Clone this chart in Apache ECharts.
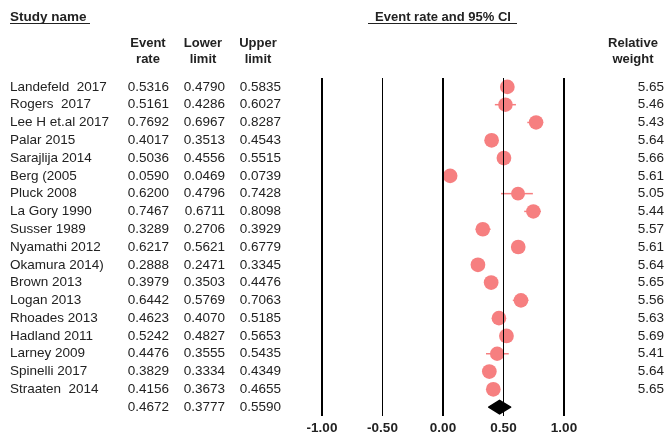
<!DOCTYPE html>
<html>
<head>
<meta charset="utf-8">
<script src="https://cdn.jsdelivr.net/npm/echarts@6/dist/echarts.min.js"></script>
<style>
html,body{margin:0;padding:0;background:#fff;}
#chart{width:667px;height:440px;}
</style>
</head>
<body>
<div id="chart"></div>
<script>
/*
* forest plot data
*/
var studies=['Landefeld  2017','Rogers  2017','Lee H et.al 2017','Palar 2015','Sarajlija 2014','Berg (2005','Pluck 2008','La Gory 1990','Susser 1989','Nyamathi 2012','Okamura 2014)','Brown 2013','Logan 2013','Rhoades 2013','Hadland 2011','Larney 2009','Spinelli 2017','Straaten  2014'];
var eventRate=[0.5316,0.5161,0.7692,0.4017,0.5036,0.0590,0.6200,0.7467,0.3289,0.6217,0.2888,0.3979,0.6442,0.4623,0.5242,0.4476,0.3829,0.4156];
var lowerLimit=[0.4790,0.4286,0.6967,0.3513,0.4556,0.0469,0.4796,0.6711,0.2706,0.5621,0.2471,0.3503,0.5769,0.4070,0.4827,0.3555,0.3334,0.3673];
var upperLimit=[0.5835,0.6027,0.8287,0.4543,0.5515,0.0739,0.7428,0.8098,0.3929,0.6779,0.3345,0.4476,0.7063,0.5185,0.5653,0.5435,0.4349,0.4655];
var relWeight=[5.65,5.46,5.43,5.64,5.66,5.61,5.05,5.44,5.57,5.61,5.64,5.65,5.56,5.63,5.69,5.41,5.64,5.65];
var summary=[0.4672,0.3777,0.5590]; // rate, lower, upper
var xTicks=[-1,-0.5,0,0.5,1];

var FONT='Liberation Sans, Arial, sans-serif';
var rowIds=[];
for(var i=0;i<=studies.length;i++){rowIds.push(String(i));}

function colText(idx,arr,sumVal){
	idx=+idx;
	if(idx<studies.length) return arr[idx];
	return sumVal===undefined?'':sumVal;
}
function fmt4(v){return v.toFixed(4);}

function colAxis(margin,align,position,fn){
	return {
		type:'category',
		data:rowIds,
		inverse:true,
		position:position,
		axisLine:{show:false},
		axisTick:{show:false},
		splitLine:{show:false},
		axisLabel:{
			interval:0,
			margin:margin,
			align:align,
			fontSize:13.5,
			fontFamily:FONT,
			color:'#222',
			formatter:fn
		}
	};
}

var ciData=[],dotData=[];
for(var i=0;i<studies.length;i++){
	ciData.push([lowerLimit[i],upperLimit[i],i]);
	dotData.push([eventRate[i],i,relWeight[i]]);
}

var option={
	backgroundColor:'#fff',
	animation:false,
	grid:{left:322,right:103,top:78,bottom:24},
	xAxis:{
		type:'value',
		min:-1,
		max:1,
		interval:0.5,
		axisLine:{show:false},
		axisTick:{show:false},
		splitLine:{show:false},
		axisLabel:{
			margin:5,
			fontSize:13.5,
			fontWeight:'bold',
			fontFamily:FONT,
			color:'#222',
			formatter:function(v){return v.toFixed(2);}
		}
	},
	yAxis:[
		colAxis(312,'left','left',function(v,i){return colText(i,studies,'');}),
		colAxis(153,'right','left',function(v,i){return colText(i,eventRate.map(fmt4),fmt4(summary[0]));}),
		colAxis(97,'right','left',function(v,i){return colText(i,lowerLimit.map(fmt4),fmt4(summary[1]));}),
		colAxis(41,'right','left',function(v,i){return colText(i,upperLimit.map(fmt4),fmt4(summary[2]));}),
		colAxis(100,'right','right',function(v,i){return colText(i,relWeight.map(function(w){return w.toFixed(2);}));})
	],
	graphic:[
		{type:'text',style:{text:'Study name',x:10,y:17,textVerticalAlign:'middle',font:'bold 13.5px '+FONT,fill:'#222'}},
		{type:'line',shape:{x1:10,y1:23.5,x2:90,y2:23.5},style:{stroke:'#222',lineWidth:1}},
		{type:'text',style:{text:'Event rate and 95% CI',x:443,y:17,textAlign:'center',textVerticalAlign:'middle',font:'bold 13px '+FONT,fill:'#222'}},
		{type:'line',shape:{x1:368,y1:23.5,x2:517,y2:23.5},style:{stroke:'#222',lineWidth:1}},
		{type:'text',style:{text:'Event\nrate',x:148,y:51,textAlign:'center',textVerticalAlign:'middle',lineHeight:16,font:'bold 13px '+FONT,fill:'#222'}},
		{type:'text',style:{text:'Lower\nlimit',x:203,y:51,textAlign:'center',textVerticalAlign:'middle',lineHeight:16,font:'bold 13px '+FONT,fill:'#222'}},
		{type:'text',style:{text:'Upper\nlimit',x:258,y:51,textAlign:'center',textVerticalAlign:'middle',lineHeight:16,font:'bold 13px '+FONT,fill:'#222'}},
		{type:'text',style:{text:'Relative\nweight',x:633,y:51,textAlign:'center',textVerticalAlign:'middle',lineHeight:16,font:'bold 13px '+FONT,fill:'#222'}}
	],
	series:[
		{
			// reference lines
			type:'line',
			data:[],
			silent:true,
			z:1,
			markLine:{
				silent:true,
				symbol:['none','none'],
				label:{show:false},
				animation:false,
				data:xTicks.map(function(t){
					return {xAxis:t,lineStyle:{color:'#000',type:'solid',width:(t===-0.5||t===0.5)?1:2}};
				})
			}
		},
		{
			// confidence intervals
			type:'custom',
			z:2,
			silent:true,
			data:ciData,
			renderItem:function(params,api){
				var a=api.coord([api.value(0),api.value(2)]);
				var b=api.coord([api.value(1),api.value(2)]);
				return {type:'line',shape:{x1:a[0],y1:a[1],x2:b[0],y2:b[1]},style:{stroke:'#F67F80',lineWidth:1.5}};
			},
			encode:{x:[0,1],y:2}
		},
		{
			type:'scatter',
			z:3,
			data:dotData,
			symbol:'circle',
			symbolSize:function(v){return Math.sqrt(v[2])*6.2;},
			itemStyle:{color:'#F67F80',opacity:1}
		},
		{
			// pooled estimate diamond
			type:'custom',
			z:3,
			data:[[summary[1],summary[0],summary[2],studies.length]],
			renderItem:function(params,api){
				var l=api.coord([api.value(0),api.value(3)]);
				var c=api.coord([api.value(1),api.value(3)]);
				var r=api.coord([api.value(2),api.value(3)]);
				var hh=api.size([0,1])[1]*0.38;
				return {type:'polygon',shape:{points:[[l[0],c[1]],[c[0],c[1]-hh],[r[0],c[1]],[c[0],c[1]+hh]]},style:{fill:'#000',stroke:'#000',lineWidth:1.5,lineJoin:'round'}};
			},
			encode:{x:[0,1,2],y:3}
		}
	]
};

var myChart=echarts.init(document.getElementById('chart'));
myChart.setOption(option);
</script>
</body>
</html>
